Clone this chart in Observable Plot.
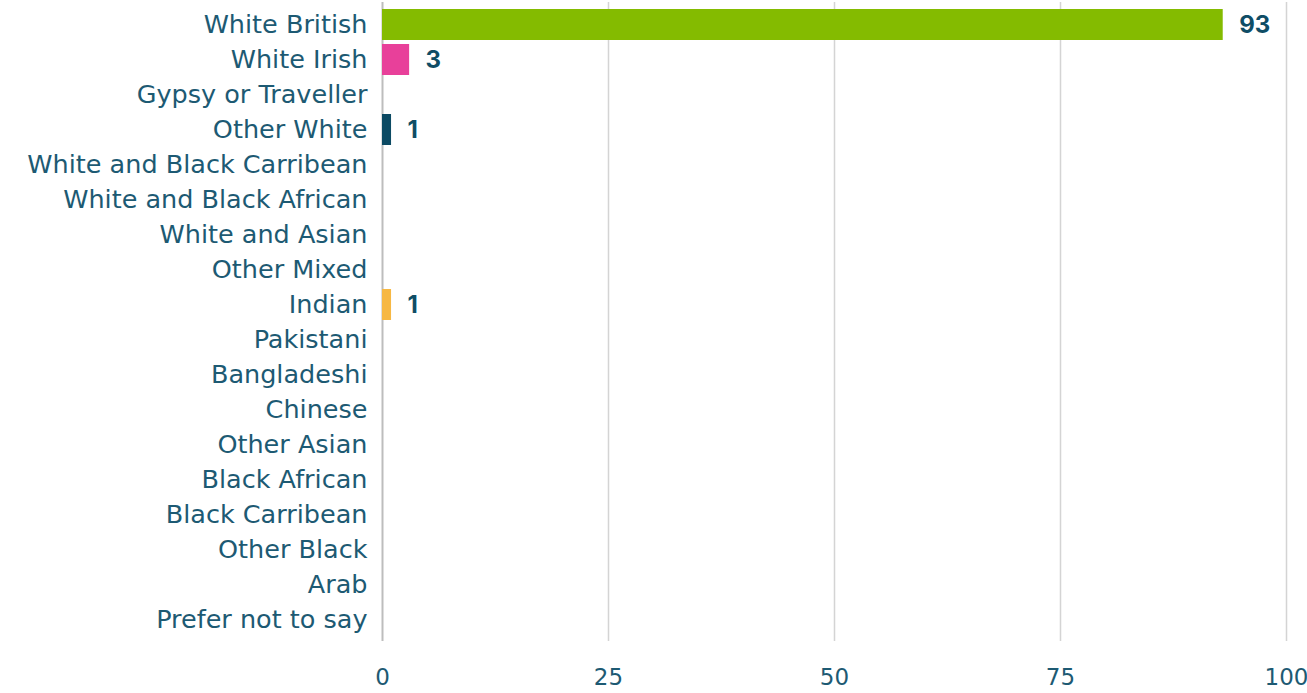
<!DOCTYPE html>
<html>
<head>
<meta charset="utf-8">
<script src="https://cdn.jsdelivr.net/npm/d3@7"></script>
<script src="https://cdn.jsdelivr.net/npm/@observablehq/plot@0.6"></script>
<style>
  html, body { margin: 0; padding: 0; background: #fff; }
  #chart svg { display: block; }
</style>
</head>
<body>
<div id="chart"></div>
<script>
const categories = [
  "White British", "White Irish", "Gypsy or Traveller", "Other White",
  "White and Black Carribean", "White and Black African", "White and Asian", "Other Mixed",
  "Indian", "Pakistani", "Bangladeshi", "Chinese", "Other Asian",
  "Black African", "Black Carribean", "Other Black", "Arab", "Prefer not to say"
];
const values = [93, 3, 0, 1, 0, 0, 0, 0, 1, 0, 0, 0, 0, 0, 0, 0, 0, 0];
const barColors = ["#84bb00", "#e8409a", "#0c4a63", "#0c4a63", "#0c4a63", "#0c4a63", "#0c4a63", "#0c4a63",
  "#f7b843", "#0c4a63", "#0c4a63", "#0c4a63", "#0c4a63", "#0c4a63", "#0c4a63", "#0c4a63", "#0c4a63", "#0c4a63"];
const xTicks = [0, 25, 50, 75, 100];

const data = categories.map((c, i) => ({category: c, value: values[i], color: barColors[i]}));
const textColor = "#1d5a73";

const chart = Plot.plot({
  width: 1307,
  height: 693,
  marginLeft: 382,
  marginRight: 21,
  marginTop: 2,
  marginBottom: 52,
  style: {fontFamily: "'DejaVu Sans', sans-serif", fontSize: "25.5px", color: textColor, background: "#fff"},
  x: {domain: [0, 100], ticks: xTicks, label: null, tickSize: 0, tickPadding: 27},
  y: {domain: categories, label: null, tickSize: 0, tickPadding: 15, padding: 0.12},
  marks: [
    Plot.ruleX(xTicks.filter(d => d > 0), {stroke: "#d4d4d4", strokeWidth: 1.5}),
    Plot.ruleX([0], {stroke: "#bdbdbd", strokeWidth: 2}),
    Plot.barX(data.filter(d => d.value > 0), {x: "value", y: "category", fill: "color"}),
    Plot.text(data.filter(d => d.value > 0), {
      x: "value", y: "category", text: d => String(d.value),
      dx: 16, textAnchor: "start", fontWeight: "bold", fontSize: 24, fill: "#0f4d66",
      fontFamily: "Inter, sans-serif"
    })
  ]
});
chart.querySelectorAll("g[aria-label='x-axis tick label'] text").forEach(t => t.style.fontSize = "23px");
document.getElementById("chart").appendChild(chart);
</script>
</body>
</html>
